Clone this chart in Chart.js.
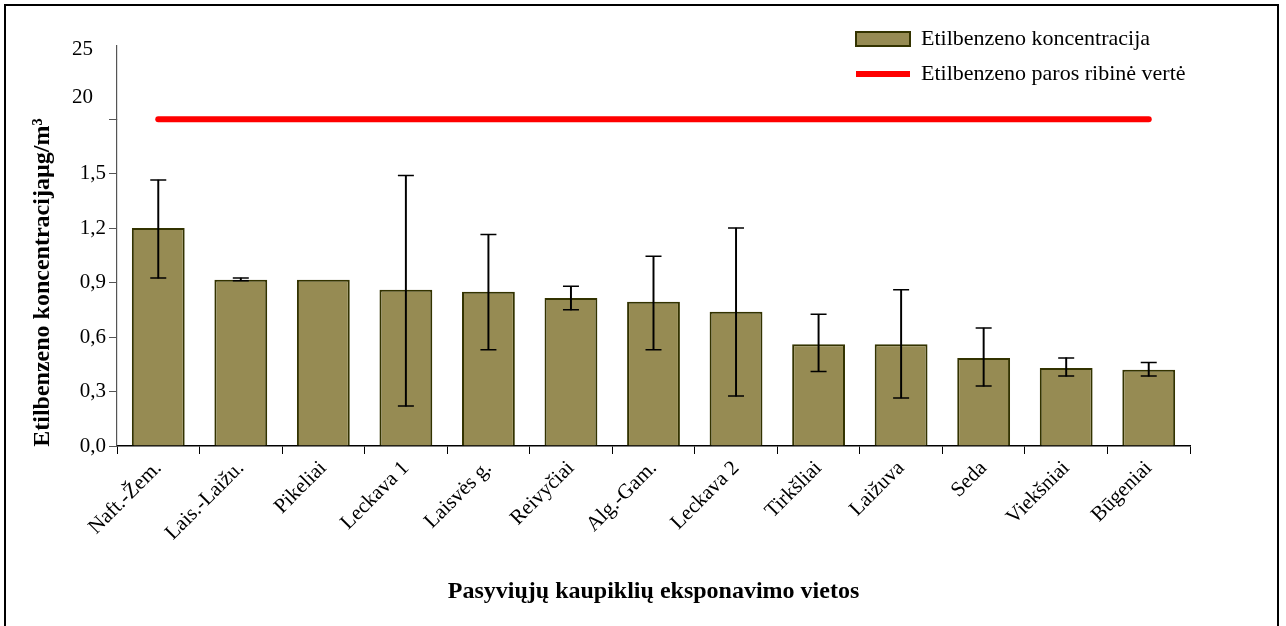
<!DOCTYPE html>
<html lang="lt">
<head>
<meta charset="UTF-8">
<title>Etilbenzeno koncentracija</title>
<style>
  body { margin: 0; background: #fff; }
  #wrap { position: relative; width: 1286px; height: 626px; overflow: hidden; }
  #frame { position: absolute; left: 4px; top: 4px; width: 1271px; height: 640px; border: 2px solid #000; pointer-events: none; }
  canvas { position: absolute; left: 0; top: 0; }
</style>
<script src="https://cdn.jsdelivr.net/npm/chart.js"></script>
</head>
<body>
<div id="wrap">
  <canvas id="chart" width="1286" height="626"></canvas>
  <div id="frame"></div>
</div>
<script>
// duomenys
const vietos = ['Naft.-Žem.', 'Lais.-Laižu.', 'Pikeliai', 'Leckava 1', 'Laisvės g.', 'Reivyčiai',
                'Alg.-Gam.', 'Leckava 2', 'Tirkšliai', 'Laižuva', 'Seda', 'Viekšniai', 'Būgeniai'];
const koncentracija = [1.20, 0.915, 0.915, 0.86, 0.85, 0.815, 0.795, 0.74, 0.56, 0.56, 0.485, 0.43, 0.42];
const paklaidaVirsus = [1.465, 0.925, null, 1.49, 1.165, 0.88, 1.045, 1.20, 0.725, 0.86, 0.65, 0.485, 0.46];
const paklaidaApacia = [0.925, 0.91, null, 0.22, 0.53, 0.75, 0.53, 0.275, 0.41, 0.265, 0.33, 0.385, 0.385];
const ribineVerte = 17.7;
const apatinesZymos = [0, 0.3, 0.6, 0.9, 1.2, 1.5];
const virsutinesZymos = [20, 25];

const serif = "'Liberation Serif', 'Times New Roman', serif";

// legenda perkeliama i virsutini desini kampa
const legendaVietoje = {
  id: 'legendaVietoje',
  afterLayout(chart) {
    const lg = chart.legend;
    lg.left = 843; lg.right = lg.left + lg.width;
    lg.top = 15; lg.bottom = lg.top + lg.height;
  }
};

new Chart(document.getElementById('chart'), {
  type: 'bar',
  data: {
    labels: vietos,
    datasets: [
      {
        label: 'paklaida',
        data: paklaidaApacia.map((a, i) => a === null ? null : [a, paklaidaVirsus[i]]),
        backgroundColor: '#000',
        borderWidth: 0,
        barThickness: 1.3,
        grouped: false,
        yAxisID: 'y',
        order: 0
      },
      {
        type: 'line',
        label: 'virsus',
        data: paklaidaVirsus,
        showLine: false,
        pointStyle: 'line',
        pointRadius: 8,
        pointBorderWidth: 1.5,
        borderColor: '#000',
        yAxisID: 'y',
        order: 0
      },
      {
        type: 'line',
        label: 'apacia',
        data: paklaidaApacia,
        showLine: false,
        pointStyle: 'line',
        pointRadius: 8,
        pointBorderWidth: 1.5,
        borderColor: '#000',
        yAxisID: 'y',
        order: 0
      },
      {
        label: 'Etilbenzeno koncentracija',
        data: koncentracija,
        backgroundColor: '#968b53',
        borderColor: '#333300',
        borderWidth: 2,
        grouped: false,
        barPercentage: 0.8,
        categoryPercentage: 0.8,
        yAxisID: 'y',
        order: 1
      },
      {
        type: 'line',
        label: 'Etilbenzeno paros ribinė vertė',
        data: vietos.map(() => ribineVerte),
        borderColor: '#ff0000',
        backgroundColor: '#ff0000',
        borderWidth: 6,
        borderCapStyle: 'round',
        pointRadius: 0,
        clip: false,
        yAxisID: 'y2',
        order: 2
      }
    ]
  },
  options: {
    responsive: false,
    animation: false,
    layout: { padding: { left: 28, right: 96, top: 46, bottom: 16 } },
    plugins: {
      tooltip: { enabled: false },
      legend: {
        position: 'chartArea',
        align: 'start',
        labels: {
          color: '#000',
          font: { family: serif, size: 22 },
          usePointStyle: true,
          pointStyleWidth: 54,
          boxWidth: 54,
          boxHeight: 14,
          padding: 13,
          filter: item => item.text.startsWith('Etilbenzeno'),
          sort: (a, b) => a.datasetIndex - b.datasetIndex,
          generateLabels(chart) {
            const items = Chart.defaults.plugins.legend.labels.generateLabels(chart);
            items.forEach(it => {
              if (it.text === 'Etilbenzeno koncentracija') {
                it.pointStyle = 'rect';
                it.fillStyle = '#968b53';
                it.strokeStyle = '#333300';
                it.lineWidth = 2;
              } else {
                it.pointStyle = 'line';
                it.strokeStyle = '#ff0000';
                it.lineWidth = 6;
              }
            });
            return items;
          }
        }
      }
    },
    scales: {
      x: {
        grid: { display: true, drawOnChartArea: false, offset: true, tickLength: 8, color: '#000' },
        border: { color: '#000', width: 1.5 },
        ticks: {
          color: '#000',
          font: { family: serif, size: 21 },
          minRotation: 45,
          maxRotation: 45,
          padding: 2
        },
        title: {
          display: true,
          text: 'Pasyviųjų kaupiklių eksponavimo vietos',
          color: '#000',
          font: { family: serif, size: 24, weight: 'bold' },
          padding: { top: 6, bottom: 4 }
        },
        afterFit(s) { s.height = 164; }
      },
      y: {
        type: 'linear',
        position: 'left',
        stack: 'asis',
        stackWeight: 326,
        min: 0,
        max: 1.8,
        grid: { drawOnChartArea: false, tickLength: 8, color: '#555' },
        border: { color: '#555', width: 1.2 },
        ticks: {
          color: '#000',
          font: { family: serif, size: 21 },
          padding: 3,
          stepSize: 0.3,
          callback: v => {
            const r = Math.round(v * 10) / 10;
            return apatinesZymos.includes(r) ? r.toFixed(1).replace('.', ',') : '';
          }
        },
        title: {
          display: true,
          text: 'Etilbenzeno koncentracijaµg/m³',
          color: '#000',
          font: { family: serif, size: 24, weight: 'bold' },
          padding: { top: 0, bottom: 2 }
        },
        afterFit(s) { s.width = 89; }
      },
      y2: {
        type: 'linear',
        position: 'left',
        stack: 'asis',
        stackWeight: 73,
        min: 17.7,
        max: 25.4,
        grid: { drawOnChartArea: false, drawTicks: false },
        border: { color: '#555', width: 1.2 },
        ticks: {
          color: '#000',
          font: { family: serif, size: 21 },
          padding: 24,
          includeBounds: false,
          stepSize: 5,
          callback: v => virsutinesZymos.includes(v) ? String(v) : ''
        },
        afterFit(s) { s.width = 89; }
      }
    }
  },
  plugins: [legendaVietoje]
});
</script>
</body>
</html>
